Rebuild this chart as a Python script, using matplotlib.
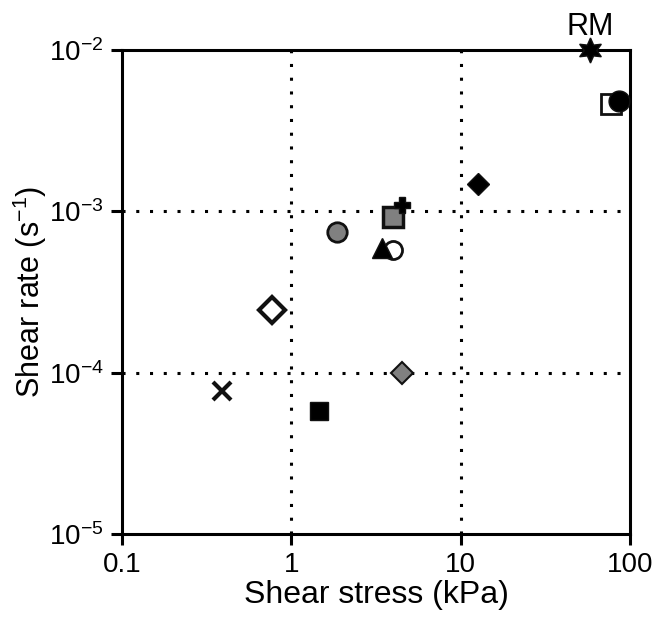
import matplotlib
matplotlib.use("Agg")
import matplotlib.pyplot as plt

plt.rcParams['font.family'] = ['Liberation Sans', 'DejaVu Sans']

# shear stress (kPa), shear rate (1/s), marker, face colour
stress = [0.39, 0.77, 1.46, 1.86, 3.98, 3.43, 3.98, 4.5, 4.5, 12.7, 58, 77, 86]
rate = [7.7e-5, 2.45e-4, 5.8e-5, 7.5e-4, 5.8e-4, 5.9e-4, 9.2e-4, 1.09e-3, 1.0e-4, 1.48e-3, 1.0e-2, 4.6e-3, 4.8e-3]
markers = ['x', 'D', 's', 'o', 'o', '^', 's', 'P', 'D', 'D', (6, 1, 0), 's', 'o']
faces = ['k', 'white', 'k', 'gray', 'white', 'k', 'gray', 'k', 'gray', 'k', 'k', 'white', 'k']
sizes = [13, 13, 13, 14, 13, 14, 14, 12, 11, 11, 18, 14, 15]
edges = [3, 3, 1, 2, 2, 1, 2.5, 1, 1.5, 1, 1, 2, 1]

fig, ax = plt.subplots(figsize=(6.62, 6.21), dpi=100)
fig.subplots_adjust(left=0.184, right=0.952, bottom=0.14, top=0.9195)

ax.set_xscale('log')
ax.set_yscale('log')
ax.set_xlim(0.1, 100)
ax.set_ylim(1e-5, 1e-2)

for v in [1, 10]:
    ax.axvline(v, color='k', ls=(0, (1, 3.5)), lw=2.2, zorder=1)
for v in [1e-3, 1e-4]:
    ax.axhline(v, color='k', ls=(0, (1, 3.5)), lw=2.2, zorder=1)

for x, y, m, f, s, e in zip(stress, rate, markers, faces, sizes, edges):
    if m == 'x':
        ax.plot(x, y, marker=m, ms=s, mew=e, color='#111111', ls='none', zorder=3)
    else:
        ax.plot(x, y, marker=m, ms=s, mfc=f, mec='#111111', mew=e, ls='none',
                zorder=3, clip_on=False)

ax.text(58, 1.38e-2, 'RM', fontsize=22, ha='center', va='center')

ax.set_xticks([0.1, 1, 10, 100])
ax.set_xticklabels(['0.1', '1', '10', '100'])
ax.set_yticks([1e-5, 1e-4, 1e-3, 1e-2])
ax.set_yticklabels(['$\\mathregular{10^{-5}}$', '$\\mathregular{10^{-4}}$',
                    '$\\mathregular{10^{-3}}$', '$\\mathregular{10^{-2}}$'])
ax.minorticks_off()
ax.tick_params(axis='both', which='major', labelsize=20, width=2.2, length=8,
               direction='out', colors='k', pad=5)
for sp in ax.spines.values():
    sp.set_linewidth(2.2)

ax.set_xlabel('Shear stress (kPa)', fontsize=23, labelpad=1)
ax.set_ylabel('Shear rate ($\\mathregular{s^{-1}}$)', fontsize=22, labelpad=0)

plt.savefig('out.png', dpi=100)
